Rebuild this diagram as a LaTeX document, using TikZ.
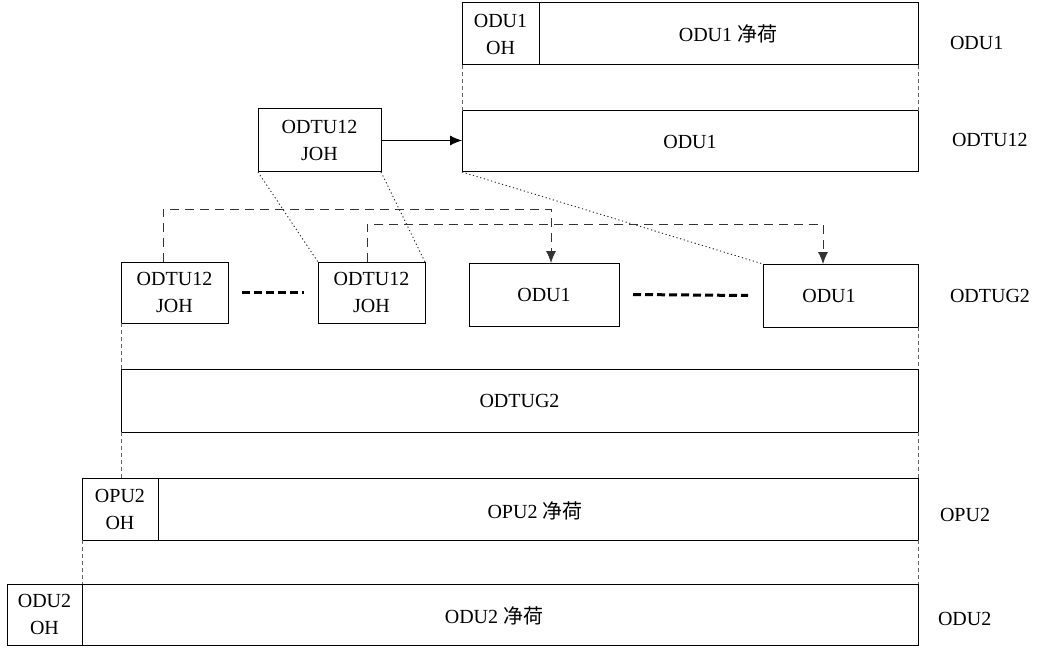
\documentclass[tikz,border=0pt]{standalone}
\usepackage{fontspec}
\setmainfont{Liberation Serif}
\newfontfamily\cjkfont{Noto Sans CJK SC}
\usetikzlibrary{arrows.meta,calc}
\begin{document}
\begin{tikzpicture}[x=1pt,y=-1pt,
  every node/.style={font=\fontsize{20}{27}\selectfont, inner sep=0pt, outer sep=0pt},
  frame/.style={draw, line width=1pt, anchor=north west, align=center},
  lbl/.style={anchor=west},
  sidedash/.style={draw=black!60, line width=0.7pt, dash pattern=on 4pt off 3pt},
  route/.style={draw=black!80, line width=0.8pt, dash pattern=on 9pt off 6pt},
  dots/.style={draw=black!85, line width=0.9pt, dash pattern=on 1.2pt off 2.6pt},
  thickdash/.style={draw, line width=3pt, dash pattern=on 8pt off 4pt},
  tip/.style={-{Latex[length=12pt,width=10pt]}}
]
\useasboundingbox (0,0) rectangle (1039,650);

% top row ODU1
\node[frame, minimum width=456pt, minimum height=62pt] (odu1f) at (462,3) {};
\node[frame, minimum width=77pt, minimum height=62pt] (odu1oh) at (462,3) {ODU1\\OH};
\node (odu1pl) at (728,34) {ODU1 {\cjkfont 净荷}};

% ODTU12 row
\node[frame, minimum width=456pt, minimum height=61pt] (odu1b) at (462,111) {ODU1};
\node[frame, minimum width=123pt, minimum height=63pt] (joh) at (258,109) {ODTU12\\JOH};

% ODTUG2 members
\node[frame, minimum width=107pt, minimum height=61pt] (joha) at (121,262) {ODTU12\\JOH};
\node[frame, minimum width=107pt, minimum height=61pt] (johb) at (318,262) {ODTU12\\JOH};
\node[frame, minimum width=150pt, minimum height=63pt] (odua) at (469,263) {ODU1};
\node[frame, minimum width=155pt, minimum height=63pt] (odub) at (763,264) {};
\node (odubt) at (829,296) {ODU1};

% ODTUG2
\node[frame, minimum width=797pt, minimum height=63pt] (odtug) at (121,369) {ODTUG2};

% OPU2
\node[frame, minimum width=836pt, minimum height=62pt] (opu2f) at (82,478) {};
\node[frame, minimum width=76pt, minimum height=62pt] (opu2oh) at (82,478) {OPU2\\OH};
\node (opu2pl) at (535,511) {OPU2 {\cjkfont 净荷}};

% ODU2
\node[frame, minimum width=911pt, minimum height=61pt] (odu2f) at (7,584) {};
\node[frame, minimum width=75pt, minimum height=61pt] (odu2oh) at (7,584) {ODU2\\OH};
\node (odu2pl) at (494,616) {ODU2 {\cjkfont 净荷}};

% right labels
\node[lbl] (l1) at (950,43) {ODU1};
\node[lbl] (l2) at (952,140) {ODTU12};
\node[lbl] (l3) at (950,296) {ODTUG2};
\node[lbl] (l4) at (940,515) {OPU2};
\node[lbl] (l5) at (938,619) {ODU2};

% side dashed guides
\draw[sidedash] (odu1f.south west) -- (odu1b.north west);
\draw[sidedash] (odu1f.south east) -- (odu1b.north east);
\draw[sidedash] (joha.south west) -- (odtug.north west);
\draw[sidedash] (odub.south east) -- (odtug.north east);
\draw[sidedash] (odtug.south west) -- (odtug.south west |- opu2f.north);
\draw[sidedash] (odtug.south east) -- (opu2f.north east);
\draw[sidedash] (opu2f.south west) -- (odu2oh.north east);
\draw[sidedash] (opu2f.south east) -- (odu2f.north east);

% dotted projections
\draw[dots] (joh.south west) -- (johb.north west);
\draw[dots] (joh.south east) -- (johb.north east);
\draw[dots] (odu1b.south west) -- (odub.north west);

% arrow JOH -> ODU1
\draw[tip, line width=0.9pt] (joh.east) -- (joh.east -| odu1b.west);

% routed dashed arrows
\coordinate (c1) at (163,209);
\coordinate (c2) at (551,209);
\coordinate (c3) at (367,224);
\coordinate (c4) at (823,224);
\draw[route, tip] (joha.north -| c1) -- (c1) -- (c2) -- (c2 |- odua.north);
\draw[route, tip] (johb.north -| c3) -- (c3) -- (c4) -- (c4 |- odub.north);

% thick dashes (ellipsis)
\draw[thickdash] ($(joha.east)+(14,0)$) -- ($(johb.west)+(-14,0)$);
\draw[thickdash] ($(odua.east)+(14,0)$) -- ($(odub.west)+(-15,0)$);
\end{tikzpicture}
\end{document}
